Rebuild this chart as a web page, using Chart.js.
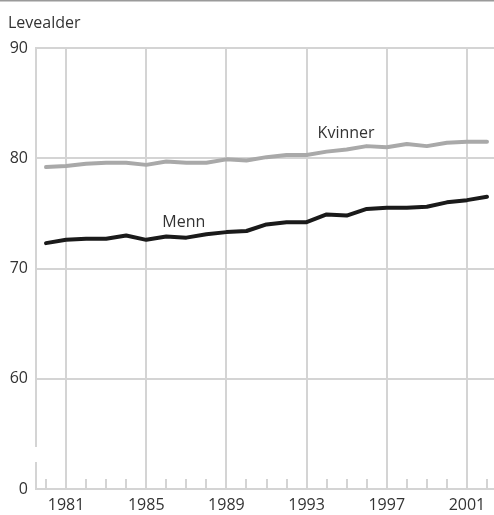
<!DOCTYPE html>
<html>
<head>
<meta charset="utf-8">
<script src="https://cdn.jsdelivr.net/npm/chart.js@4/dist/chart.umd.min.js"></script>
<style>
  html, body { margin: 0; padding: 0; background: #fff; }
  #wrap { position: relative; width: 494px; height: 515px; }
  canvas { display: block; }
</style>
</head>
<body>
<div id="wrap"><canvas id="c" width="494" height="515"></canvas></div>
<script>
// ---- Data ----
const years = [1980,1981,1982,1983,1984,1985,1986,1987,1988,1989,1990,1991,1992,1993,1994,1995,1996,1997,1998,1999,2000,2001,2002];
const kvinner = [79.2,79.3,79.5,79.6,79.6,79.4,79.7,79.6,79.6,79.9,79.8,80.1,80.3,80.3,80.6,80.8,81.1,81.0,81.3,81.1,81.4,81.5,81.5];
const menn    = [72.3,72.6,72.7,72.7,73.0,72.6,72.9,72.8,73.1,73.3,73.4,74.0,74.2,74.2,74.9,74.8,75.4,75.5,75.5,75.6,76.0,76.2,76.5];
const yTickValues = [50,60,70,80,90];
const yTickLabels = ['0','60','70','80','90'];
const majorYears = [1981,1985,1989,1993,1997,2001];
const axisTitle = 'Levealder';
const seriesLabels = [
  { text: 'Menn', year: 1985.8, value: 74.33 },
  { text: 'Kvinner', year: 1993.55, value: 82.4 }
];

const FONT = '"Open Sans", "Noto Sans", sans-serif';
const GRID = '#d4d4d4';
const TEXT = '#333333';

const decor = {
  id: 'decor',
  beforeDraw(chart) {
    const ctx = chart.ctx;
    ctx.save();
    ctx.fillStyle = '#fff';
    ctx.fillRect(0, 0, chart.width, chart.height);
    ctx.restore();
  },
  afterDraw(chart) {
    const ctx = chart.ctx;
    const a = chart.chartArea;
    const xs = chart.scales.x;
    ctx.save();
    // top rule
    ctx.fillStyle = '#9a9a9a';
    ctx.fillRect(0, 0, chart.width, 1.5);
    // axis title
    ctx.fillStyle = TEXT;
    ctx.font = '16px ' + FONT;
    ctx.textAlign = 'left';
    ctx.textBaseline = 'alphabetic';
    ctx.fillText(axisTitle, 8, 28);
    // minor ticks (inside, at bottom)
    ctx.strokeStyle = GRID;
    ctx.lineWidth = 2;
    years.forEach(y => {
      if (majorYears.includes(y)) return;
      const px = Math.round(xs.getPixelForValue(y));
      ctx.beginPath();
      ctx.moveTo(px, a.bottom);
      ctx.lineTo(px, a.bottom - 10);
      ctx.stroke();
    });
    // axis break gap
    ctx.fillStyle = '#fff';
    ctx.fillRect(a.left - 2, a.bottom - 42, 4, 15);
    // series labels
    ctx.fillStyle = TEXT;
    ctx.font = '16px ' + FONT;
    ctx.textBaseline = 'alphabetic';
    const ys = chart.scales.y;
    seriesLabels.forEach(l => {
      ctx.fillText(l.text, xs.getPixelForValue(l.year), ys.getPixelForValue(l.value) + 6);
    });
    ctx.restore();
  }
};

new Chart(document.getElementById('c'), {
  type: 'line',
  data: {
    datasets: [
      {
        label: 'Kvinner',
        data: years.map((y, i) => ({ x: y, y: kvinner[i] })),
        borderColor: '#a9a9a9',
        borderWidth: 4,
        pointRadius: 0,
        tension: 0,
        borderJoinStyle: 'round',
        borderCapStyle: 'round'
      },
      {
        label: 'Menn',
        data: years.map((y, i) => ({ x: y, y: menn[i] })),
        borderColor: '#1a1a1a',
        borderWidth: 4,
        pointRadius: 0,
        tension: 0,
        borderJoinStyle: 'round',
        borderCapStyle: 'round'
      }
    ]
  },
  options: {
    responsive: false,
    devicePixelRatio: 1,
    animation: false,
    layout: { padding: { top: 48, right: 0, left: 0, bottom: 0 } },
    plugins: { legend: { display: false }, tooltip: { enabled: false }, title: { display: false } },
    scales: {
      x: {
        type: 'linear',
        min: 1979.5,
        max: 2002.35,
        afterFit(s) { s.height = 26; },
        afterBuildTicks(s) { s.ticks = majorYears.map(v => ({ value: v })); },
        grid: { color: GRID, lineWidth: 2, drawTicks: false },
        border: { display: true, color: GRID, width: 2 },
        ticks: {
          font: { family: FONT, size: 16 },
          color: TEXT,
          padding: 7,
          maxRotation: 0,
          autoSkip: false,
          callback: v => String(v)
        }
      },
      y: {
        type: 'linear',
        min: 50,
        max: 90,
        afterFit(s) { s.width = 36; },
        afterBuildTicks(s) { s.ticks = yTickValues.map(v => ({ value: v })); },
        grid: { color: GRID, lineWidth: 2, drawTicks: false },
        border: { display: true, color: GRID, width: 2 },
        ticks: {
          font: { family: FONT, size: 16 },
          color: TEXT,
          padding: 8,
          callback: v => yTickLabels[yTickValues.indexOf(v)]
        }
      }
    }
  },
  plugins: [decor]
});
</script>
</body>
</html>
